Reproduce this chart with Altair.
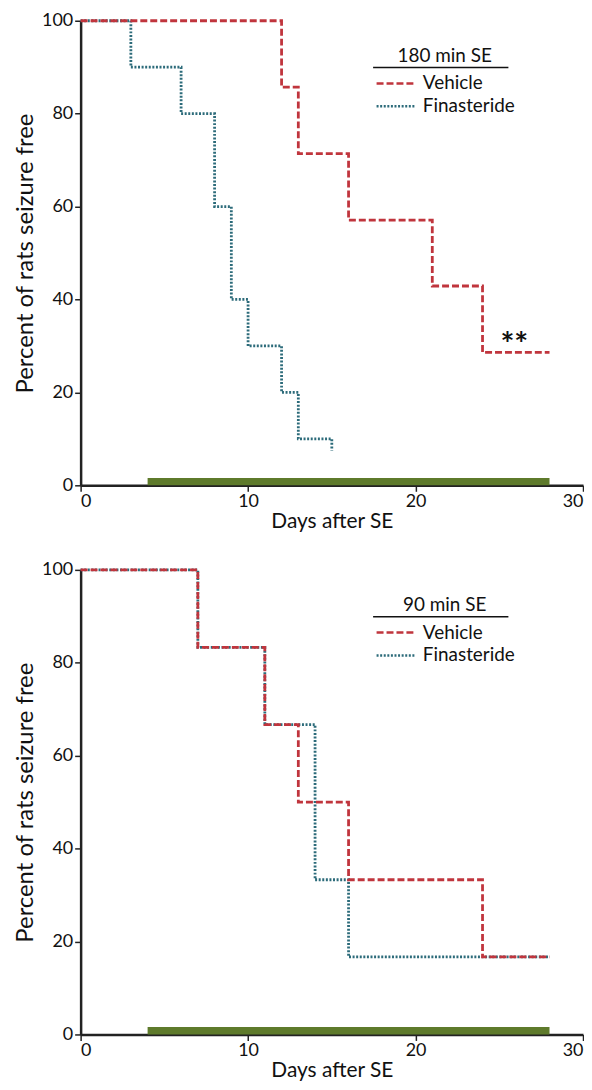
import altair as alt
import pandas as pd

# ---- data ----
series_names = ["Vehicle", "Finasteride"]

# 180 min SE (step-after change points)
veh180_days = [0, 12, 13, 16, 21, 24, 28]
veh180_pct = [100, 85.7, 71.4, 57.1, 42.9, 28.6, 28.6]
fin180_days = [0, 3, 6, 8, 9, 10, 12, 13, 15]
fin180_pct = [100, 90, 80, 60, 40, 30, 20, 10, 7.5]

# 90 min SE
veh90_days = [0, 7, 11, 13, 16, 24, 28]
veh90_pct = [100, 83.3, 66.7, 50, 33.3, 16.7, 16.7]
fin90_days = [0, 7, 11, 14, 16, 28]
fin90_pct = [100, 83.3, 66.7, 33.3, 16.7, 16.7]

treatment_start = [4]
treatment_end = [28]
treatment_height = [1.6]

star_day = [25.9]
star_pct = [30]
star_text = ["**"]

x_ticks = [0, 10, 20, 30]
y_ticks = [0, 20, 40, 60, 80, 100]

RED = "#c0353d"
TEAL = "#2c6b7a"
GREEN = "#5e7a2b"
FONT = "Lato"
W = 505
LEG_X = 296


def make_df(days, pct, name):
    return pd.DataFrame({"day": days, "pct": pct, "group": name})


def panel(veh_d, veh_p, fin_d, fin_p, legend_title, show_star, h):
    df = pd.concat([make_df(veh_d, veh_p, "Vehicle"), make_df(fin_d, fin_p, "Finasteride")])
    x = alt.X("day:Q", scale=alt.Scale(domain=[0, 30], nice=False, zero=True),
              axis=alt.Axis(values=x_ticks, title="Days after SE", grid=False,
                            domainColor="#222", domainWidth=2.5, tickColor="#222",
                            tickWidth=1.5, tickSize=6, labelFontSize=18, titleFontSize=21,
                            labelFont=FONT, titleFont=FONT, titleFontWeight="normal",
                            labelColor="#111", titleColor="#111", labelPadding=1, titlePadding=0))
    y = alt.Y("pct:Q", scale=alt.Scale(domain=[0, 100], nice=False),
              axis=alt.Axis(values=y_ticks, title="Percent of rats seizure free", grid=False,
                            domainColor="#222", domainWidth=2.5, tickColor="#222",
                            tickWidth=1.5, tickSize=6, labelFontSize=18, titleFontSize=24,
                            labelFont=FONT, titleFont=FONT, titleFontWeight="normal",
                            labelColor="#111", titleColor="#111", labelPadding=2, titlePadding=4))
    color = alt.Color("group:N", scale=alt.Scale(domain=series_names, range=[RED, TEAL]),
                      legend=alt.Legend(title=legend_title, orient="none", legendX=LEG_X, legendY=26,
                                        symbolType="M-1,0H3", symbolSize=361, symbolStrokeWidth=2.5,
                                        labelFontSize=19, titleFontSize=19, labelFont=FONT,
                                        titleFont=FONT, titleFontWeight="normal", titleAnchor="middle",
                                        titlePadding=7, rowPadding=2, labelColor="#111", titleColor="#111",
                                        labelOffset=26))
    dash = alt.StrokeDash("group:N", scale=alt.Scale(domain=series_names, range=[[7, 3], [2, 1.6]]),
                          legend=alt.Legend(title=legend_title))
    base = alt.Chart(df)
    fin_line = base.transform_filter(alt.datum.group == "Finasteride").mark_line(
        interpolate="step-after", strokeWidth=2.8).encode(x=x, y=y, color=color, strokeDash=dash)
    veh_line = base.transform_filter(alt.datum.group == "Vehicle").mark_line(
        interpolate="step-after", strokeWidth=2.8).encode(x=x, y=y, color=color, strokeDash=dash)
    bar_df = pd.DataFrame({"s": treatment_start, "e": treatment_end, "h": treatment_height})
    bar = alt.Chart(bar_df).mark_rect(color=GREEN).encode(
        x="s:Q", x2="e:Q", y=alt.Y("h:Q"), y2=alt.datum(0))
    underline = alt.Chart(pd.DataFrame({"a": [0]})).mark_rule(color="#111", strokeWidth=1.5).encode(
        x=alt.value(294), x2=alt.value(430), y=alt.value(47))
    layers = [bar, fin_line, veh_line, underline]
    if show_star:
        sdf = pd.DataFrame({"day": star_day, "pct": star_pct, "t": star_text})
        layers.append(alt.Chart(sdf).mark_text(fontSize=33, font=FONT, fontWeight="bold", color="#111").encode(
            x="day:Q", y="pct:Q", text="t:N"))
    return alt.layer(*layers).properties(width=W, height=h)


top = panel(veh180_days, veh180_pct, fin180_days, fin180_pct, "180 min SE", True, 467)
bottom = panel(veh90_days, veh90_pct, fin90_days, fin90_pct, "90 min SE", False, 467)

chart = alt.vconcat(top, bottom, spacing=30).resolve_scale(
    color="independent", strokeDash="independent").resolve_legend(
    color="independent", strokeDash="independent").configure_view(stroke=None).properties(
    padding={"top": 1, "left": 5, "right": 0, "bottom": 0})

chart.save("out.html", embed_options={"renderer": "svg", "actions": False})
